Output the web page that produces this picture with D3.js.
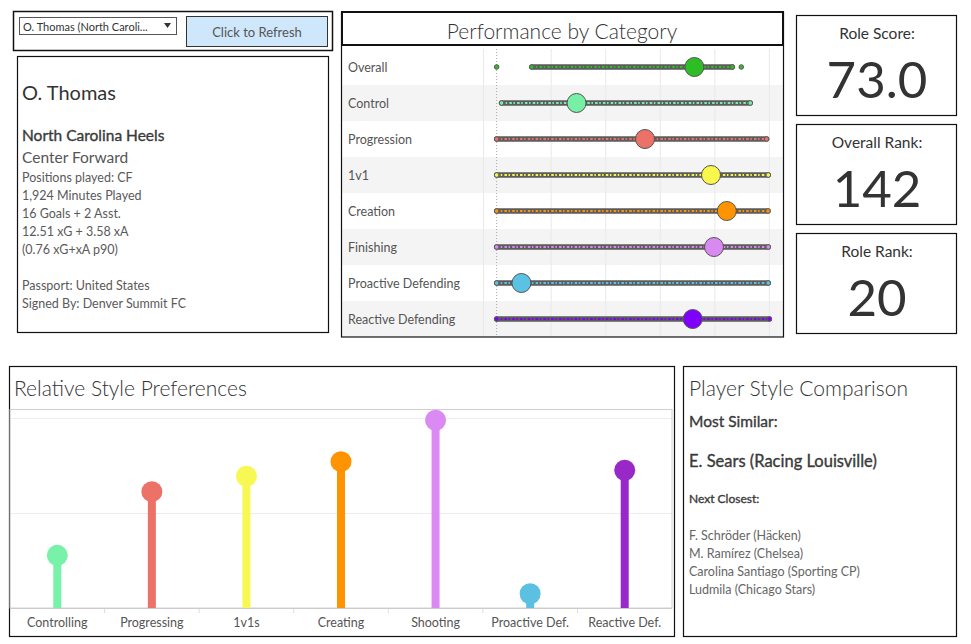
<!DOCTYPE html>
<html><head><meta charset="utf-8">
<script src="https://cdn.jsdelivr.net/npm/d3@7"></script>
<style>
body{margin:0;background:#fff;}
text{font-family:Lato,"Open Sans",sans-serif;}
.semi{stroke:#3a3a3a;stroke-width:0.35px;}
</style>
</head><body>
<svg id="c" width="971" height="644"></svg>
<script>
// ---------- DATA ----------
const playerName = "O. Thomas";
const dropdownLabel = "O. Thomas (North Caroli...";
const infoTeam = "North Carolina Heels";
const infoRole = "Center Forward";
const infoLines = ["Positions played: CF","1,924 Minutes Played","16 Goals + 2 Asst.","12.51 xG + 3.58 xA","(0.76 xG+xA p90)"];
const infoLines2 = ["Passport: United States","Signed By: Denver Summit FC"];

const perfCategories = ["Overall","Control","Progression","1v1","Creation","Finishing","Proactive Defending","Reactive Defending"];
const perfPlayer = [72.5, 29.3, 54.4, 78.6, 84.4, 79.7, 9.1, 71.9];
const perfMin = [12.9, 1.8, 0, 0, 0, 0, 0, 0];
const perfMax = [86.4, 93.0, 99.0, 99.6, 99.5, 99.6, 99.6, 100];
const perfOutliers = [[0, 89.7], [], [], [], [], [], [], []];
const perfColors = ["#2fbd25","#77f0a6","#ec7268","#f7f74c","#ff9300","#d98af0","#5bc2e3","#7f00fb"];
const perfTicks = [0, 20, 40, 60, 80, 100];

const kpiLabels = ["Role Score:","Overall Rank:","Role Rank:"];
const kpiValues = ["73.0","142","20"];

const styleCategories = ["Controlling","Progressing","1v1s","Creating","Shooting","Proactive Def.","Reactive Def."];
const styleValues = [0.277, 0.612, 0.693, 0.770, 0.988, 0.075, 0.725];
const styleColors = ["#77f2a8","#ec7268","#f8f855","#ff9300","#da8af2","#5bc0e2","#9828c8"];
const styleTicks = [0, 0.5, 1.0];

const mostSimilar = "E. Sears (Racing Louisville)";
const nextClosest = ["F. Schröder (Häcken)","M. Ramírez (Chelsea)","Carolina Santiago (Sporting CP)","Ludmila (Chicago Stars)"];

// ---------- DRAW ----------
const svg = d3.select("#c");
const dark = "#333";

function box(x,y,w,h,sw){ svg.append("rect").attr("x",x).attr("y",y).attr("width",w).attr("height",h)
  .attr("fill","none").attr("stroke","#111").attr("stroke-width",sw||1.2); }

// Filter panel
box(13.5,11.5,319,39,1.5);
svg.append("rect").attr("x",19.5).attr("y",17.5).attr("width",157).attr("height",17).attr("fill","#fff").attr("stroke","#555");
svg.append("text").attr("x",23).attr("y",26).attr("dominant-baseline","central").attr("font-size",11).attr("fill",dark).text(dropdownLabel);
svg.append("path").attr("d","M164,23 L171,23 L167.5,28 Z").attr("fill","#333");
svg.append("rect").attr("x",186.5).attr("y",16.5).attr("width",141).attr("height",30).attr("fill","#cfe7fb").attr("stroke","#333");
svg.append("text").attr("x",257).attr("y",32).attr("text-anchor","middle").attr("dominant-baseline","central").attr("font-size",13).attr("fill","#555").text("Click to Refresh");

// Info panel
box(17.5,56.5,311,276);
svg.append("text").attr("x",22).attr("y",92).attr("dominant-baseline","central").attr("font-size",20).attr("fill",dark).text(playerName);
svg.append("text").attr("class","semi").attr("x",22).attr("y",135).attr("dominant-baseline","central").attr("font-size",15.5).attr("fill","#3a3a3a").text(infoTeam);
svg.append("text").attr("x",22).attr("y",157).attr("dominant-baseline","central").attr("font-size",15.5).attr("fill","#555").text(infoRole);
infoLines.forEach((t,i)=>svg.append("text").attr("x",22).attr("y",177+18*i).attr("dominant-baseline","central").attr("font-size",12.5).attr("fill","#5a5a5a").text(t));
infoLines2.forEach((t,i)=>svg.append("text").attr("x",22).attr("y",285+18*i).attr("dominant-baseline","central").attr("font-size",12.5).attr("fill","#5a5a5a").text(t));

// Performance by Category
const gP = svg.append("g");
const xP = d3.scaleLinear().domain([-5,105]).range([483,783]);
const yP = d3.scaleBand().domain(perfCategories).range([49,337]);
gP.selectAll(".band").data(perfCategories).join("rect")
  .attr("x",342).attr("width",441).attr("y",d=>yP(d)).attr("height",yP.bandwidth())
  .attr("fill",(d,i)=>i%2?"#f4f4f4":"#fff");
gP.selectAll(".grid").data(perfTicks.filter(t=>t>0)).join("line")
  .attr("x1",d=>xP(d)).attr("x2",d=>xP(d)).attr("y1",49).attr("y2",337).attr("stroke","#e9e9e9");
gP.append("line").attr("x1",xP(-5)+0.5).attr("x2",xP(-5)+0.5).attr("y1",49).attr("y2",337).attr("stroke","#e9e9e9");
gP.append("line").attr("x1",xP(0)).attr("x2",xP(0)).attr("y1",49).attr("y2",337).attr("stroke","#aaa").attr("stroke-dasharray","1,2");
gP.selectAll(".lab").data(perfCategories).join("text")
  .attr("x",348).attr("y",d=>yP(d)+yP.bandwidth()/2).attr("dominant-baseline","central")
  .attr("font-size",12.5).attr("fill","#555").text(d=>d);
perfCategories.forEach((c,i)=>{
  const cy = yP(c)+yP.bandwidth()/2;
  gP.append("line").attr("x1",xP(perfMin[i])).attr("x2",xP(perfMax[i])).attr("y1",cy).attr("y2",cy)
    .attr("stroke","#5c5c5c").attr("stroke-width",5.5).attr("stroke-linecap","round");
  gP.append("line").attr("x1",xP(perfMin[i])).attr("x2",xP(perfMax[i])).attr("y1",cy).attr("y2",cy)
    .attr("stroke",perfColors[i]).attr("stroke-width",2.2).attr("stroke-dasharray","2.5,1.6,1.5,2.2");
  perfOutliers[i].concat([perfMin[i],perfMax[i]]).forEach(v=>{
    gP.append("circle").attr("cx",xP(v)).attr("cy",cy).attr("r",2.3).attr("fill",perfColors[i]).attr("stroke","#5c5c5c").attr("stroke-width",1);
  });
  gP.append("circle").attr("cx",xP(perfPlayer[i])).attr("cy",cy).attr("r",9.5)
    .attr("fill",perfColors[i]).attr("stroke","#555").attr("stroke-width",1);
});
// title
svg.append("rect").attr("x",342).attr("y",12).attr("width",441).attr("height",33).attr("fill","#fff").attr("stroke","#111").attr("stroke-width",2);
svg.append("text").attr("x",562).attr("y",30).attr("text-anchor","middle").attr("dominant-baseline","central")
  .attr("font-size",21).attr("font-weight",300).attr("fill",dark).text("Performance by Category");
box(341.5,12,442,325);

// KPI panels
kpiLabels.forEach((l,i)=>{
  const top = 15+109*i;
  box(796.5,top+0.5,160,100);
  svg.append("text").attr("x",877).attr("y",top+18).attr("text-anchor","middle").attr("dominant-baseline","central")
    .attr("font-size",15.5).attr("fill",dark).text(l);
  svg.append("text").attr("x",877).attr("y",top+63).attr("text-anchor","middle").attr("dominant-baseline","central")
    .attr("font-size",51).attr("fill",dark).text(kpiValues[i]);
});

// Relative Style Preferences
box(9.5,366.5,665,270);
svg.append("text").attr("x",14).attr("y",387).attr("dominant-baseline","central").attr("font-size",21).attr("font-weight",300).attr("fill",dark).text("Relative Style Preferences");
const xL = d3.scaleBand().domain(styleCategories).range([10,672]);
const yL = d3.scaleLinear().domain([0,1.047]).range([608,409]);
const gL = svg.append("g");
gL.selectAll(".g").data(styleTicks.filter(t=>t>0)).join("line")
  .attr("x1",10).attr("x2",672).attr("y1",d=>Math.round(yL(d))+0.5).attr("y2",d=>Math.round(yL(d))+0.5).attr("stroke","#ececec");
gL.append("rect").attr("x",10).attr("y",409.5).attr("width",662).attr("height",198.5).attr("fill","none").attr("stroke","#d0d0d0");
gL.selectAll(".sep").data(styleCategories.slice(1)).join("line")
  .attr("x1",d=>xL(d)).attr("x2",d=>xL(d)).attr("y1",608).attr("y2",613).attr("stroke","#ddd");
gL.selectAll(".stem").data(styleCategories).join("line")
  .attr("x1",d=>xL(d)+xL.bandwidth()/2).attr("x2",d=>xL(d)+xL.bandwidth()/2)
  .attr("y1",yL(0)).attr("y2",(d,i)=>yL(styleValues[i]))
  .attr("stroke",(d,i)=>styleColors[i]).attr("stroke-width",8);
gL.selectAll(".dot").data(styleCategories).join("circle")
  .attr("cx",d=>xL(d)+xL.bandwidth()/2).attr("cy",(d,i)=>yL(styleValues[i])).attr("r",10.5)
  .attr("fill",(d,i)=>styleColors[i]);
gL.append("line").attr("x1",10).attr("x2",672).attr("y1",608.5).attr("y2",608.5).attr("stroke","#ccc");
gL.selectAll(".xl").data(styleCategories).join("text")
  .attr("x",d=>xL(d)+xL.bandwidth()/2).attr("y",622).attr("text-anchor","middle").attr("dominant-baseline","central")
  .attr("font-size",12.5).attr("fill","#555").text(d=>d);

// Player Style Comparison
box(683.5,366.5,273,270);
svg.append("text").attr("x",689).attr("y",387).attr("dominant-baseline","central").attr("font-size",21).attr("font-weight",300).attr("fill",dark).text("Player Style Comparison");
svg.append("text").attr("class","semi").attr("x",689).attr("y",421).attr("dominant-baseline","central").attr("font-size",15.5).attr("fill","#3a3a3a").text("Most Similar:");
svg.append("text").attr("class","semi").attr("x",689).attr("y",461).attr("dominant-baseline","central").attr("font-size",16.5).attr("fill","#3a3a3a").text(mostSimilar);
svg.append("text").attr("class","semi").attr("x",689).attr("y",498).attr("dominant-baseline","central").attr("font-size",12).attr("fill","#3a3a3a").text("Next Closest:");
nextClosest.forEach((t,i)=>svg.append("text").attr("x",689).attr("y",535+18*i).attr("dominant-baseline","central").attr("font-size",12.5).attr("fill","#666").text(t));
</script>
</body></html>
